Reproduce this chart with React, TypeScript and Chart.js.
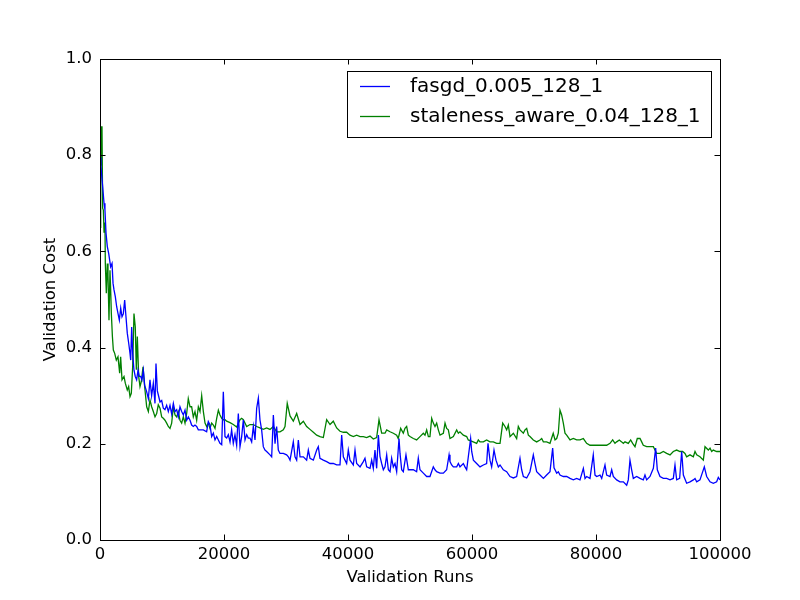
import { useEffect, useRef } from 'react';
import { Chart, registerables } from 'chart.js';

Chart.register(...registerables);

// validation cost, x in validation runs
const fasgdRuns = [
  0, 160, 430, 650, 800, 970, 1180, 1400, 1560, 1720, 1940, 2100, 2260, 2470, 2690, 2900, 3120, 3340, 3550, 3760,
  3980, 4190, 4400, 4630, 4840, 4950, 5110, 5270, 5480, 5690, 5910, 6130, 6340, 6560, 6770, 6990, 7200, 7530, 7800, 8060,
  8330, 8600, 8870, 9030, 9250, 9400, 9680, 9950, 10210, 10480, 10750, 11020, 11290, 11560, 11830, 12100, 12370, 12630, 12900, 13170,
  13440, 13710, 13980, 14250, 14520, 14780, 15050, 15320, 15590, 15860, 16130, 16670, 17200, 17470, 17740, 18010, 18280, 18550, 18820, 19090,
  19350, 19630, 19890, 20160, 20430, 20700, 20970, 21230, 21500, 21770, 22040, 22310, 22580, 22850, 23120, 23390, 23660, 23920, 24190, 24460,
  24730, 25000, 25270, 25540, 25800, 26070, 26340, 26610, 26880, 27420, 27690, 27960, 28230, 28490, 28760, 29030, 29570, 30100, 30380, 30650,
  31180, 31450, 31720, 31990, 32260, 32800, 33330, 33600, 33870, 34410, 34950, 35210, 35480, 36020, 36560, 37100, 37630, 38170, 38710, 38980,
  39250, 39780, 40050, 40320, 40860, 41130, 41400, 41940, 42470, 42740, 43010, 43550, 43820, 44080, 44350, 44620, 44900, 45160, 45430, 45700,
  45970, 46240, 46510, 46780, 47040, 47310, 47580, 47850, 48230, 48390, 48660, 48920, 49350, 49730, 50000, 50540, 51070, 51340, 51610, 52150,
  52690, 53220, 53760, 54030, 54300, 54840, 55380, 55910, 56300, 56450, 56720, 56990, 57530, 57800, 58060, 58600, 58870, 59140, 59780, 59950,
  60220, 60750, 61290, 61830, 62360, 62580, 62900, 63170, 63550, 63870, 64250, 64520, 65050, 65590, 66130, 66670, 67200, 67740, 68010, 68280,
  68820, 69350, 69890, 70160, 70430, 70970, 71510, 72040, 72580, 73010, 73230, 73660, 73920, 74190, 74730, 75270, 75810, 76340, 76880, 77420,
  77960, 78230, 78490, 79030, 79560, 79840, 80110, 80650, 80920, 81450, 81720, 82260, 82530, 82790, 83330, 83870, 84410, 84950, 85210, 85480,
  85750, 86020, 86560, 87100, 87630, 87900, 88170, 88710, 89250, 89620, 89890, 90320, 90860, 91400, 91940, 92470, 92740, 93010, 93490, 93820,
  94090, 94620, 95160, 95700, 95970, 96240, 96770, 97470, 97850, 98390, 98920, 99460, 99730, 100000,
];
const fasgdCost = [
  0.795, 0.776, 0.735, 0.7, 0.686, 0.638, 0.61, 0.596, 0.582, 0.568, 0.575, 0.534, 0.52, 0.506, 0.485, 0.471, 0.457, 0.482, 0.464, 0.47,
  0.499, 0.464, 0.43, 0.409, 0.388, 0.374, 0.443, 0.388, 0.353, 0.34, 0.333, 0.353, 0.34, 0.34, 0.333, 0.353, 0.322, 0.308, 0.294, 0.333,
  0.3, 0.326, 0.284, 0.367, 0.31, 0.302, 0.287, 0.29, 0.274, 0.271, 0.28, 0.267, 0.28, 0.262, 0.284, 0.267, 0.271, 0.256, 0.277, 0.267,
  0.26, 0.27, 0.249, 0.256, 0.249, 0.239, 0.236, 0.239, 0.236, 0.229, 0.229, 0.229, 0.225, 0.246, 0.239, 0.215, 0.222, 0.208, 0.215, 0.208,
  0.201, 0.198, 0.308, 0.215, 0.212, 0.219, 0.204, 0.229, 0.201, 0.219, 0.197, 0.263, 0.194, 0.215, 0.25, 0.208, 0.219, 0.212, 0.212, 0.204,
  0.236, 0.208, 0.274, 0.295, 0.25, 0.229, 0.194, 0.187, 0.184, 0.177, 0.173, 0.26, 0.2, 0.236, 0.187, 0.18, 0.18, 0.177, 0.173, 0.166,
  0.204, 0.173, 0.166, 0.208, 0.173, 0.173, 0.166, 0.187, 0.17, 0.166, 0.187, 0.194, 0.17, 0.166, 0.163, 0.159, 0.159, 0.156, 0.156, 0.218,
  0.173, 0.159, 0.187, 0.166, 0.156, 0.187, 0.159, 0.152, 0.163, 0.17, 0.152, 0.149, 0.166, 0.149, 0.187, 0.149, 0.218, 0.174, 0.159, 0.146,
  0.152, 0.177, 0.146, 0.142, 0.17, 0.152, 0.159, 0.142, 0.211, 0.18, 0.146, 0.142, 0.177, 0.146, 0.146, 0.146, 0.142, 0.17, 0.146, 0.139,
  0.132, 0.132, 0.152, 0.146, 0.142, 0.139, 0.139, 0.146, 0.177, 0.163, 0.156, 0.152, 0.152, 0.159, 0.152, 0.159, 0.152, 0.146, 0.211, 0.184,
  0.166, 0.159, 0.152, 0.156, 0.159, 0.201, 0.166, 0.152, 0.187, 0.166, 0.152, 0.156, 0.146, 0.142, 0.132, 0.129, 0.132, 0.17, 0.146, 0.132,
  0.129, 0.142, 0.177, 0.159, 0.142, 0.135, 0.128, 0.135, 0.142, 0.191, 0.15, 0.139, 0.142, 0.135, 0.132, 0.132, 0.128, 0.125, 0.128, 0.125,
  0.149, 0.128, 0.132, 0.128, 0.177, 0.135, 0.132, 0.135, 0.128, 0.156, 0.135, 0.132, 0.146, 0.132, 0.125, 0.121, 0.121, 0.114, 0.125, 0.166,
  0.146, 0.128, 0.132, 0.128, 0.125, 0.135, 0.125, 0.132, 0.149, 0.191, 0.146, 0.132, 0.128, 0.128, 0.125, 0.128, 0.156, 0.125, 0.128, 0.184,
  0.135, 0.118, 0.121, 0.125, 0.128, 0.121, 0.125, 0.152, 0.132, 0.121, 0.118, 0.121, 0.13, 0.125,
];

const staleRuns = [
  0, 110, 220, 320, 430, 540, 650, 800, 860, 1020, 1180, 1290, 1450, 1610, 1720, 1830, 2000, 2150, 2370, 2630,
  2900, 3170, 3330, 3550, 3870, 4080, 4400, 4620, 4840, 5050, 5270, 5480, 5690, 5860, 6020, 6240, 6450, 6670, 6940, 7200,
  7530, 7800, 8060, 8330, 8600, 8870, 9140, 9400, 9680, 9950, 10210, 10480, 10750, 11020, 11290, 11560, 11830, 12100, 12370, 12630,
  12900, 13170, 13440, 13710, 13980, 14240, 14520, 14780, 15050, 15320, 15590, 15860, 16130, 16400, 16670, 16940, 17200, 17470, 17740, 18010,
  18280, 18550, 18820, 19090, 19350, 19630, 19890, 20160, 20430, 20970, 21500, 22040, 22580, 22850, 23120, 23660, 24190, 24730, 25270, 25800,
  26340, 26880, 27420, 27960, 28490, 29030, 29570, 29840, 30200, 30650, 31180, 31720, 32260, 32800, 33330, 33870, 34410, 34950, 35480, 36020,
  36560, 37100, 37630, 38170, 38710, 39250, 39780, 40320, 40860, 41400, 41940, 42470, 43010, 43550, 44080, 44620, 45000, 45430, 45970, 46240,
  46780, 47310, 47850, 48100, 48500, 48920, 49190, 49460, 49730, 50000, 50540, 51070, 51610, 52150, 52420, 52690, 52960, 53220, 53500, 53760,
  54030, 54300, 54570, 54840, 55380, 55650, 55910, 56180, 56450, 56990, 57530, 57800, 58060, 58600, 59140, 59400, 60200, 60750, 61020, 61290,
  61830, 62360, 62900, 63440, 63980, 64520, 64950, 65320, 65590, 65860, 66130, 66670, 67200, 67470, 67740, 68280, 68550, 68820, 69090, 69350,
  69890, 70430, 70970, 71240, 71510, 72040, 72580, 73100, 73390, 73660, 73920, 74190, 74460, 74730, 75000, 75270, 75810, 76340, 76880, 77420,
  77960, 78490, 79030, 79560, 80110, 80650, 81180, 81720, 82260, 82690, 83060, 83330, 83760, 84140, 84410, 84680, 85210, 85590, 85910, 86290,
  86660, 87100, 87370, 87630, 88170, 88710, 89250, 89780, 90320, 90860, 91400, 91940, 92470, 93010, 93550, 93980, 94350, 94620, 95160, 95700,
  95970, 96240, 96770, 97310, 97580, 98120, 98390, 98660, 98920, 99460, 100000,
];
const staleCost = [
  0.65, 0.86, 0.78, 0.86, 0.69, 0.686, 0.64, 0.66, 0.575, 0.513, 0.575, 0.55, 0.457, 0.561, 0.52, 0.471, 0.423, 0.395, 0.388, 0.374,
  0.381, 0.347, 0.381, 0.333, 0.34, 0.326, 0.312, 0.319, 0.298, 0.305, 0.36, 0.471, 0.443, 0.354, 0.423, 0.34, 0.319, 0.33, 0.36, 0.319,
  0.277, 0.267, 0.291, 0.277, 0.267, 0.256, 0.263, 0.281, 0.274, 0.256, 0.253, 0.249, 0.243, 0.236, 0.232, 0.243, 0.277, 0.26, 0.256, 0.267,
  0.249, 0.243, 0.256, 0.243, 0.263, 0.294, 0.277, 0.277, 0.256, 0.267, 0.249, 0.277, 0.267, 0.3, 0.267, 0.243, 0.236, 0.243, 0.232, 0.243,
  0.239, 0.232, 0.253, 0.27, 0.26, 0.253, 0.25, 0.25, 0.247, 0.244, 0.24, 0.235, 0.25, 0.253, 0.25, 0.236, 0.24, 0.24, 0.236, 0.233,
  0.23, 0.233, 0.23, 0.236, 0.225, 0.225, 0.229, 0.236, 0.284, 0.258, 0.247, 0.263, 0.24, 0.247, 0.236, 0.23, 0.224, 0.218, 0.215, 0.213,
  0.25, 0.24, 0.247, 0.233, 0.226, 0.224, 0.224, 0.218, 0.215, 0.218, 0.215, 0.215, 0.213, 0.216, 0.21, 0.213, 0.25, 0.222, 0.222, 0.229,
  0.225, 0.222, 0.218, 0.211, 0.232, 0.222, 0.232, 0.236, 0.218, 0.215, 0.211, 0.208, 0.215, 0.222, 0.218, 0.229, 0.215, 0.215, 0.253, 0.243,
  0.236, 0.243, 0.229, 0.218, 0.222, 0.243, 0.232, 0.229, 0.211, 0.215, 0.229, 0.222, 0.225, 0.218, 0.215, 0.208, 0.204, 0.201, 0.208, 0.204,
  0.204, 0.208, 0.204, 0.204, 0.201, 0.201, 0.243, 0.236, 0.229, 0.239, 0.215, 0.222, 0.211, 0.236, 0.229, 0.222, 0.229, 0.232, 0.218, 0.215,
  0.208, 0.204, 0.208, 0.211, 0.204, 0.204, 0.201, 0.222, 0.208, 0.211, 0.222, 0.27, 0.26, 0.243, 0.222, 0.218, 0.208, 0.211, 0.208, 0.208,
  0.211, 0.201, 0.197, 0.197, 0.197, 0.197, 0.197, 0.197, 0.201, 0.208, 0.201, 0.204, 0.208, 0.204, 0.201, 0.204, 0.201, 0.208, 0.201, 0.194,
  0.211, 0.211, 0.204, 0.197, 0.194, 0.194, 0.194, 0.18, 0.18, 0.184, 0.18, 0.177, 0.184, 0.187, 0.184, 0.184, 0.18, 0.173, 0.177, 0.173,
  0.184, 0.177, 0.173, 0.166, 0.194, 0.187, 0.191, 0.184, 0.187, 0.184, 0.184,
];

const xTicks = [0, 20000, 40000, 60000, 80000, 100000];
const yTicks = [0, 0.2, 0.4, 0.6, 0.8, 1.0];
const seriesNames = ['fasgd_0.005_128_1', 'staleness_aware_0.04_128_1'];
const seriesColors = ['#0000ff', '#008000'];

const FONT = 'DejaVu Sans';

// matplotlib-style frame, inward ticks on all four sides and the boxed legend
const mplFrame = {
  id: 'mplFrame',
  afterDraw(chart: Chart) {
    const { ctx, chartArea } = chart;
    const { left, right, top, bottom } = chartArea;
    const xs = chart.scales.x;
    const ys = chart.scales.y;
    const tick = 5.5;
    ctx.save();
    ctx.strokeStyle = '#000';
    ctx.lineWidth = 1;
    ctx.beginPath();
    xTicks.forEach(v => {
      const px = Math.round(xs.getPixelForValue(v)) + 0.5;
      ctx.moveTo(px, bottom);
      ctx.lineTo(px, bottom - tick);
      ctx.moveTo(px, top);
      ctx.lineTo(px, top + tick);
    });
    yTicks.forEach(v => {
      const py = Math.round(ys.getPixelForValue(v)) + 0.5;
      ctx.moveTo(left, py);
      ctx.lineTo(left + tick, py);
      ctx.moveTo(right, py);
      ctx.lineTo(right - tick, py);
    });
    ctx.stroke();
    ctx.strokeRect(Math.round(left) + 0.5, Math.round(top) + 0.5, Math.round(right - left), Math.round(bottom - top));

    // legend box
    const lx = 347, ly = 71, lw = 364, lh = 66;
    ctx.fillStyle = '#fff';
    ctx.fillRect(lx, ly, lw, lh);
    ctx.strokeRect(lx + 0.5, ly + 0.5, lw, lh);
    ctx.font = `20px "${FONT}"`;
    ctx.textBaseline = 'middle';
    ctx.textAlign = 'left';
    seriesNames.forEach((name, i) => {
      const y = 86 + i * 30;
      ctx.strokeStyle = seriesColors[i];
      ctx.lineWidth = 1.3;
      ctx.beginPath();
      ctx.moveTo(360, y + 0.5);
      ctx.lineTo(390, y + 0.5);
      ctx.stroke();
      ctx.fillStyle = '#000';
      ctx.fillText(name, 410, y + 1);
    });
    ctx.restore();
  },
};

export default function App() {
  const chartRef = useRef<HTMLCanvasElement>(null);
  const chartInstance = useRef<Chart | null>(null);

  useEffect(() => {
    if (!chartRef.current) return;
    if (chartInstance.current) {
      chartInstance.current.destroy();
    }
    const ctx = chartRef.current.getContext('2d');
    if (!ctx) return;

    chartInstance.current = new Chart(ctx, {
      type: 'line',
      data: {
        datasets: [
          {
            label: seriesNames[0],
            data: fasgdRuns.map((x, i) => ({ x, y: fasgdCost[i] })),
            borderColor: seriesColors[0],
            borderWidth: 1.3,
            pointRadius: 0,
            tension: 0,
          },
          {
            label: seriesNames[1],
            data: staleRuns.map((x, i) => ({ x, y: staleCost[i] })),
            borderColor: seriesColors[1],
            borderWidth: 1.3,
            pointRadius: 0,
            tension: 0,
          },
        ],
      },
      options: {
        responsive: false,
        animation: false,
        layout: { padding: { left: 0, right: 80, top: 59, bottom: 0 } },
        scales: {
          x: {
            type: 'linear',
            min: 0,
            max: 100000,
            afterFit: (scale: any) => { scale.height = 60; },
            afterBuildTicks: (scale: any) => { scale.ticks = xTicks.map(value => ({ value })); },
            grid: { display: false, drawTicks: false },
            border: { display: false },
            ticks: {
              color: '#000',
              padding: 5,
              maxRotation: 0,
              font: { family: FONT, size: 16.5 },
              callback: (v: any) => String(v),
            },
            title: {
              display: true,
              text: 'Validation Runs',
              color: '#000',
              font: { family: FONT, size: 16.5 },
              padding: { top: 0, bottom: 12 },
            },
          },
          y: {
            min: 0,
            max: 1,
            afterFit: (scale: any) => { scale.width = 100; },
            afterBuildTicks: (scale: any) => { scale.ticks = yTicks.map(value => ({ value })); },
            grid: { display: false, drawTicks: false },
            border: { display: false },
            ticks: {
              color: '#000',
              padding: 8,
              font: { family: FONT, size: 16.5 },
              callback: (v: any) => Number(v).toFixed(1),
            },
            title: {
              display: true,
              text: 'Validation Cost',
              color: '#000',
              font: { family: FONT, size: 16.5 },
              padding: { top: 41, bottom: 0 },
            },
          },
        },
        plugins: {
          legend: { display: false },
          tooltip: { enabled: false },
        },
      },
      plugins: [mplFrame],
    });

    return () => {
      if (chartInstance.current) {
        chartInstance.current.destroy();
        chartInstance.current = null;
      }
    };
  }, []);

  return (
    <div style={{ position: 'fixed', left: 0, top: 0, width: 800, height: 600, background: '#fff' }}>
      <canvas ref={chartRef} width={800} height={600}></canvas>
    </div>
  );
}
